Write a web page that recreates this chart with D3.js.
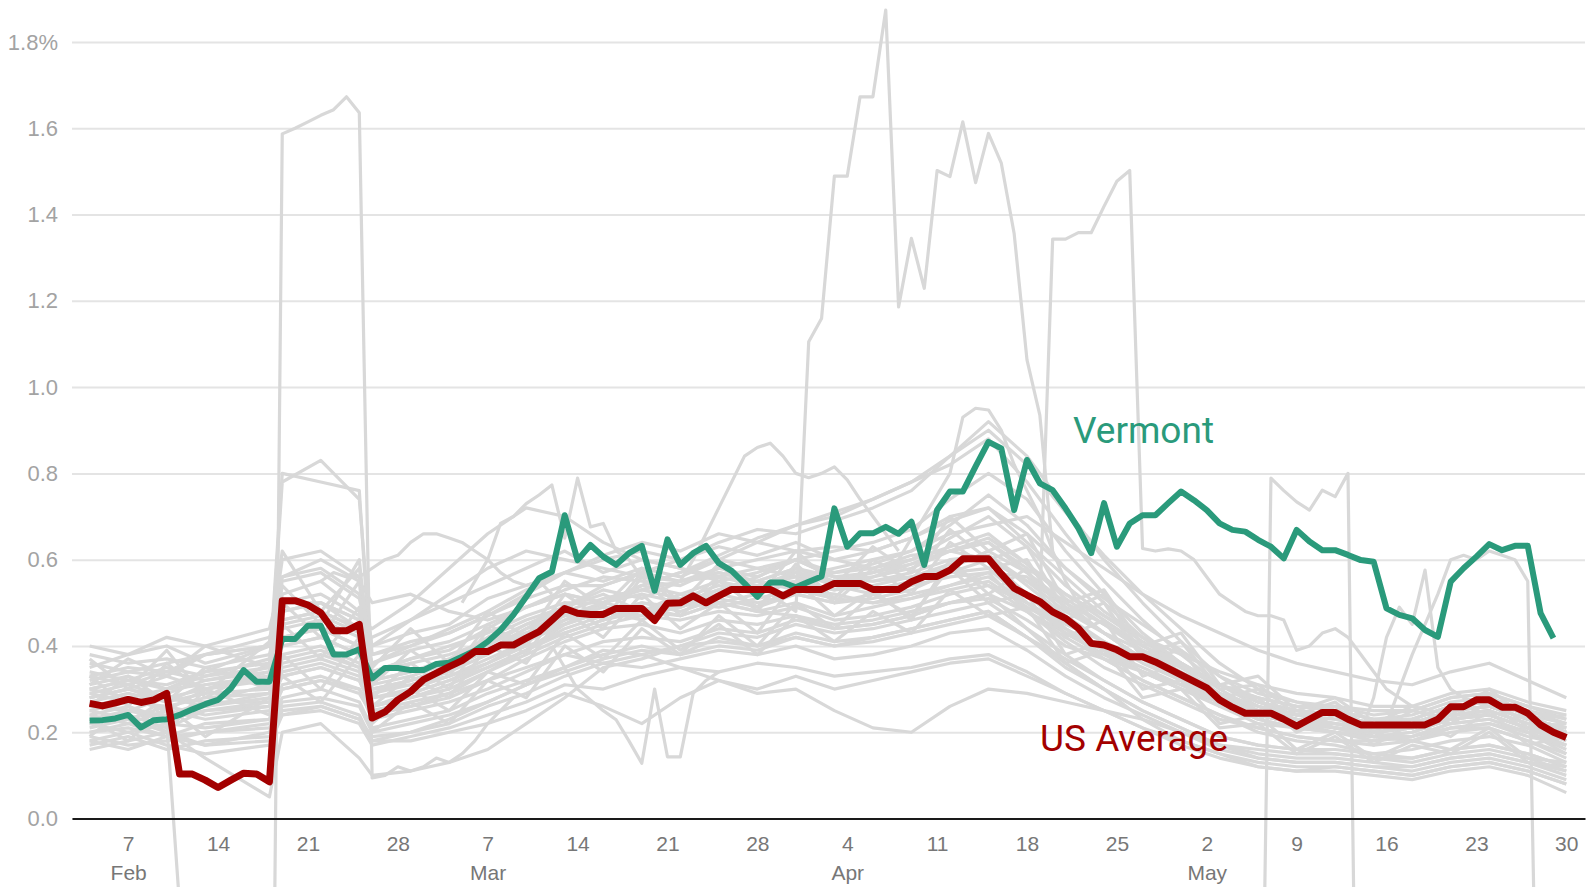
<!DOCTYPE html>
<html>
<head>
<meta charset="utf-8">
<script src="https://d3js.org/d3.v7.min.js"></script>
<style>
  body { margin: 0; background: #fff; }
  svg { display: block; font-family: Roboto, "Noto Sans", sans-serif; }
</style>
</head>
<body>
<svg id="drawing_region"></svg>
<script>
// daily series start on this day
const firstDay = '2021-02-04';

// US average, Feb 4 - May 30
const usAverage = [
  0.267,0.261,0.268,0.276,0.269,0.275,0.29,0.103,0.103,0.089,0.072,0.089,0.105,0.103,0.085,
  0.505,0.505,0.495,0.477,0.435,0.435,0.45,0.233,0.247,0.275,
  0.294,0.322,0.337,0.352,0.366,0.387,0.387,0.402,0.402,0.418,0.433,0.46,0.487,0.476,0.473,0.473,
  0.487,0.487,0.487,0.459,0.499,0.50,0.516,0.50,0.516,0.531,0.531,0.531,0.531,0.516,0.531,
  0.531,0.531,0.545,0.545,0.545,0.531,0.531,0.531,0.549,0.561,0.561,0.576,0.602,0.602,0.602,
  0.567,0.534,0.518,0.503,0.479,0.464,0.441,0.406,0.402,0.391,0.375,0.375,0.363,0.348,0.333,
  0.318,0.303,0.275,0.258,0.244,0.244,0.244,0.23,0.214,0.23,0.246,0.246,0.23,0.217,0.217,
  0.217,0.217,0.217,0.217,0.23,0.259,0.259,0.275,0.275,0.258,0.258,0.244,0.217,0.2,0.188
];

// Vermont, Feb 4 - May 29
const vermont = [
  0.227,0.228,0.232,0.24,0.211,0.228,0.23,0.24,0.253,0.265,0.275,0.302,0.344,0.317,0.317,
  0.416,0.416,0.447,0.447,0.38,0.38,0.392,0.325,0.349,0.349,
  0.344,0.344,0.358,0.361,0.375,0.389,0.41,0.437,0.472,0.514,0.557,0.572,0.703,0.599,0.634,0.607,
  0.588,0.615,0.632,0.528,0.647,0.588,0.615,0.632,0.592,0.574,0.545,0.514,0.547,0.547,0.536,
  0.549,0.561,0.719,0.63,0.661,0.661,0.676,0.66,0.688,0.588,0.715,0.758,0.758,0.816,0.873,
  0.858,0.715,0.831,0.777,0.761,0.719,0.673,0.615,0.731,0.63,0.684,0.703,0.703,0.731,0.758,
  0.738,0.715,0.684,0.669,0.665,0.646,0.63,0.603,0.669,0.642,0.622,0.622,0.611,0.599,0.595,
  0.487,0.472,0.464,0.437,0.421,0.549,0.58,0.607,0.636,0.622,0.632,0.632,0.476,0.418
];

const sampleDays = [0,3,6,9,14,15,18,21,22,25,28,31,34,37,40,43,46,49,52,55,
                    58,61,64,67,70,73,76,79,82,85,88,91,94,97,100,103,106,109,112,115];

// other states, one row per state, at sampleDays
const stateRates = [
  [0.38,0.36,0.37,0.35,0.38, 0.50,0.50,0.46,0.36, 0.40,0.44,0.48,0.53,0.57, 0.60,0.62,0.60,0.63,0.61,0.64, 0.60,0.58,0.61,0.62,0.60,0.55, 0.50,0.45,0.40,0.36,0.31, 0.27,0.25,0.24,0.22,0.21, 0.23,0.24,0.21,0.17],
  [0.33,0.35,0.34,0.38,0.40, 0.56,0.58,0.52,0.40, 0.46,0.50,0.54,0.58,0.62, 0.57,0.60,0.58,0.55,0.57,0.60, 0.56,0.55,0.56,0.58,0.54,0.48, 0.43,0.38,0.34,0.30,0.27, 0.23,0.21,0.20,0.19,0.18, 0.21,0.22,0.20,0.15],
  [0.22,0.24,0.21,0.25,0.26, 0.33,0.35,0.32,0.26, 0.29,0.32,0.36,0.41,0.46, 0.50,0.54,0.57,0.61,0.65,0.68, 0.71,0.74,0.78,0.82,0.88,0.78, 0.66,0.55,0.46,0.38,0.31, 0.26,0.23,0.21,0.19,0.18, 0.20,0.21,0.18,0.14],
  [0.25,0.27,0.26,0.28,0.29, 0.40,0.42,0.38,0.30, 0.32,0.35,0.39,0.44,0.49, 0.54,0.57,0.60,0.64,0.67,0.66, 0.69,0.72,0.76,0.84,0.92,0.84, 0.72,0.60,0.50,0.41,0.33, 0.27,0.24,0.22,0.20,0.21, 0.24,0.25,0.22,0.18],
  [0.18,0.20,0.17,0.15,0.17, 0.24,0.25,0.22,0.17, 0.19,0.21,0.24,0.27,0.31, 0.30,0.33,0.35,0.34,0.36,0.35, 0.33,0.34,0.35,0.37,0.38,0.34, 0.29,0.25,0.21,0.17,0.14, 0.12,0.11,0.12,0.11,0.10, 0.12,0.13,0.11,0.08],
  [0.20,0.22,0.19,0.20,0.22, 0.28,0.30,0.27,0.21, 0.23,0.25,0.29,0.32,0.35, 0.38,0.40,0.38,0.42,0.40,0.43, 0.41,0.42,0.44,0.46,0.48,0.42, 0.36,0.30,0.25,0.21,0.17, 0.15,0.14,0.14,0.13,0.12, 0.14,0.15,0.13,0.10],
  [0.28,0.30,0.28,0.27,0.31, 0.45,0.47,0.43,0.29, 0.32,0.35,0.39,0.44,0.47, 0.47,0.50,0.49,0.52,0.50,0.52, 0.50,0.51,0.53,0.57,0.60,0.52, 0.44,0.37,0.32,0.28,0.24, 0.21,0.19,0.18,0.17,0.18, 0.21,0.21,0.18,0.15],
  [0.30,0.28,0.30,0.31,0.33, 0.42,0.44,0.40,0.32, 0.34,0.36,0.41,0.45,0.49, 0.52,0.48,0.52,0.50,0.48,0.50, 0.47,0.49,0.51,0.54,0.57,0.56, 0.49,0.43,0.37,0.32,0.27, 0.24,0.22,0.21,0.19,0.20, 0.23,0.24,0.21,0.18],
  [0.35,0.38,0.40,0.36,0.40, 0.60,0.62,0.56,0.40, 0.43,0.45,0.51,0.54,0.57, 0.55,0.58,0.56,0.60,0.58,0.56, 0.55,0.53,0.55,0.57,0.58,0.50, 0.43,0.38,0.34,0.30,0.27, 0.25,0.24,0.25,0.23,0.23, 0.26,0.27,0.25,0.22],
  [0.24,0.22,0.25,0.23,0.25, 0.30,0.32,0.30,0.25, 0.26,0.28,0.32,0.37,0.41, 0.44,0.45,0.43,0.46,0.45,0.47, 0.44,0.45,0.47,0.50,0.52,0.48, 0.42,0.37,0.32,0.28,0.24, 0.20,0.18,0.17,0.15,0.16, 0.18,0.19,0.17,0.13],
  [0.26,0.25,0.23,0.26,0.28, 0.36,0.38,0.35,0.28, 0.30,0.33,0.36,0.40,0.43, 0.46,0.49,0.47,0.50,0.52,0.55, 0.53,0.56,0.59,0.62,0.65,0.59, 0.51,0.45,0.39,0.34,0.29, 0.25,0.23,0.21,0.20,0.21, 0.24,0.25,0.22,0.20],
  [0.32,0.34,0.33,0.30,0.34, 0.52,0.55,0.48,0.34, 0.37,0.39,0.44,0.49,0.52, 0.50,0.54,0.52,0.55,0.53,0.57, 0.54,0.52,0.54,0.56,0.57,0.48, 0.41,0.35,0.31,0.27,0.23, 0.21,0.19,0.18,0.18,0.19, 0.22,0.23,0.20,0.16],
  [0.16,0.18,0.20,0.17,0.18, 0.25,0.26,0.23,0.19, 0.20,0.22,0.26,0.29,0.33, 0.36,0.35,0.37,0.39,0.38,0.40, 0.37,0.38,0.40,0.43,0.44,0.39, 0.33,0.28,0.24,0.20,0.16, 0.14,0.13,0.13,0.12,0.11, 0.13,0.14,0.12,0.09],
  [0.29,0.27,0.29,0.32,0.34, 0.48,0.50,0.44,0.32, 0.34,0.37,0.42,0.46,0.49, 0.53,0.51,0.55,0.57,0.55,0.58, 0.56,0.57,0.60,0.65,0.70,0.63, 0.54,0.47,0.41,0.36,0.31, 0.27,0.25,0.24,0.22,0.23, 0.26,0.27,0.24,0.22],
  [0.20,0.21,0.19,0.22,0.23, 0.30,0.32,0.29,0.24, 0.26,0.29,0.34,0.39,0.45, 0.50,0.54,0.57,0.60,0.64,0.68, 0.70,0.74,0.78,0.84,0.90,0.82, 0.71,0.61,0.52,0.44,0.36, 0.30,0.27,0.25,0.23,0.23, 0.26,0.27,0.24,0.20],
  [0.27,0.29,0.27,0.29,0.30, 0.40,0.42,0.38,0.30, 0.31,0.34,0.38,0.43,0.46, 0.49,0.48,0.50,0.49,0.51,0.53, 0.51,0.50,0.52,0.54,0.56,0.50, 0.44,0.39,0.34,0.30,0.26, 0.22,0.21,0.20,0.18,0.19, 0.21,0.22,0.19,0.17],
  [0.34,0.32,0.35,0.33,0.37, 0.50,0.52,0.47,0.36, 0.39,0.41,0.45,0.49,0.53, 0.56,0.55,0.54,0.58,0.60,0.62, 0.60,0.62,0.65,0.69,0.72,0.66, 0.58,0.51,0.45,0.39,0.33, 0.29,0.27,0.26,0.24,0.25, 0.28,0.29,0.26,0.23],
  [0.19,0.17,0.18,0.20,0.21, 0.27,0.28,0.26,0.20, 0.22,0.24,0.27,0.31,0.35, 0.39,0.38,0.40,0.43,0.42,0.45, 0.43,0.44,0.46,0.48,0.50,0.44, 0.38,0.32,0.27,0.23,0.19, 0.17,0.16,0.16,0.15,0.14, 0.16,0.17,0.15,0.12],
  [0.31,0.33,0.30,0.34,0.36, 0.44,0.46,0.42,0.34, 0.36,0.38,0.41,0.43,0.45, 0.48,0.47,0.46,0.48,0.47,0.49, 0.46,0.47,0.49,0.52,0.54,0.50, 0.45,0.41,0.37,0.33,0.29, 0.26,0.24,0.23,0.21,0.22, 0.25,0.26,0.23,0.21],
  [0.23,0.25,0.24,0.27,0.27, 0.34,0.36,0.33,0.26, 0.28,0.30,0.34,0.38,0.42, 0.45,0.47,0.49,0.52,0.54,0.55, 0.57,0.59,0.62,0.68,0.75,0.68, 0.58,0.50,0.42,0.35,0.29, 0.24,0.22,0.20,0.19,0.19, 0.22,0.23,0.20,0.17],
  [0.22,0.20,0.22,0.21,0.23, 0.31,0.33,0.30,0.23, 0.25,0.27,0.30,0.34,0.38, 0.41,0.42,0.41,0.44,0.43,0.46, 0.44,0.45,0.47,0.50,0.52,0.44, 0.36,0.30,0.23,0.18,0.15, 0.12,0.11,0.11,0.10,0.09, 0.11,0.12,0.10,0.06],
  [0.36,0.34,0.36,0.38,0.40, 0.55,0.57,0.51,0.38, 0.41,0.43,0.47,0.51,0.54, 0.54,0.57,0.55,0.58,0.56,0.60, 0.57,0.58,0.60,0.63,0.66,0.59, 0.52,0.46,0.40,0.35,0.31, 0.28,0.26,0.25,0.23,0.24, 0.27,0.28,0.25,0.23],
  [0.25,0.23,0.26,0.24,0.26, 0.35,0.37,0.34,0.26, 0.28,0.31,0.35,0.39,0.44, 0.47,0.50,0.48,0.51,0.49,0.52, 0.50,0.52,0.55,0.58,0.62,0.57, 0.50,0.43,0.37,0.32,0.27, 0.23,0.21,0.20,0.19,0.20, 0.23,0.24,0.21,0.19],
  [0.21,0.23,0.20,0.14,0.05, 0.20,0.22,0.14,0.10, 0.11,0.13,0.16,0.22,0.28, 0.35,0.37,0.40,0.41,0.40,0.42, 0.40,0.42,0.44,0.46,0.48,0.42, 0.35,0.30,0.25,0.21,0.17, 0.14,0.13,0.13,0.12,0.12, 0.14,0.15,0.13,0.11],
  [0.30,0.32,0.31,0.34,0.40, 0.46,0.48,0.44,0.42, 0.46,0.52,0.58,0.62,0.60, 0.58,0.56,0.55,0.57,0.55,0.53, 0.52,0.50,0.51,0.53,0.55,0.49, 0.44,0.39,0.35,0.31,0.27, 0.24,0.22,0.21,0.20,0.21, 0.24,0.24,0.21,0.19],
  [0.28,0.30,0.33,0.38,0.42, 0.48,0.50,0.46,0.44, 0.50,0.58,0.66,0.72,0.70, 0.64,0.60,0.58,0.56,0.58,0.60, 0.56,0.55,0.57,0.60,0.61,0.54, 0.47,0.41,0.36,0.32,0.28, 0.25,0.23,0.22,0.21,0.22, 0.25,0.26,0.23,0.21],
  [0.17,0.19,0.16,0.18,0.19, 0.24,0.26,0.23,0.18, 0.18,0.20,0.22,0.25,0.29, 0.26,0.22,0.28,0.32,0.30,0.33, 0.30,0.32,0.34,0.36,0.37,0.33, 0.29,0.25,0.21,0.18,0.15, 0.13,0.12,0.12,0.11,0.10, 0.12,0.13,0.11,0.08],
  [0.26,0.28,0.25,0.30,0.32, 0.38,0.40,0.36,0.29, 0.31,0.33,0.37,0.41,0.45, 0.48,0.46,0.50,0.53,0.56,0.60, 0.62,0.64,0.67,0.74,0.80,0.74, 0.62,0.52,0.43,0.36,0.30, 0.25,0.23,0.21,0.20,0.21, 0.24,0.25,0.22,0.19],
  [0.33,0.31,0.34,0.32,0.35, 0.46,0.48,0.44,0.34, 0.37,0.40,0.43,0.47,0.50, 0.50,0.53,0.51,0.54,0.52,0.55, 0.53,0.54,0.56,0.59,0.61,0.55, 0.48,0.43,0.39,0.35,0.31, 0.28,0.26,0.26,0.25,0.25, 0.28,0.29,0.26,0.24],
  [0.24,0.26,0.23,0.25,0.27, 0.33,0.35,0.32,0.25, 0.27,0.29,0.32,0.35,0.38, 0.36,0.38,0.35,0.32,0.29,0.30, 0.25,0.21,0.20,0.26,0.30,0.29, 0.27,0.25,0.23,0.20,0.17, 0.16,0.15,0.15,0.14,0.14, 0.16,0.17,0.15,0.12],
  [0.27,0.25,0.28,0.26,0.29, 0.37,0.39,0.35,0.28, 0.29,0.32,0.35,0.39,0.43, 0.46,0.48,0.50,0.52,0.54,0.56, 0.58,0.60,0.62,0.66,0.68,0.70, 0.64,0.58,0.52,0.47,0.43, 0.39,0.36,0.34,0.32,0.31, 0.34,0.36,0.32,0.28],
  [0.29,0.31,0.28,0.30,0.33, 0.42,0.44,0.40,0.31, 0.33,0.36,0.40,0.45,0.48, 0.51,0.53,0.55,0.56,0.54,0.57, 0.55,0.57,0.59,0.62,0.64,0.58, 0.52,0.47,0.42,0.38,0.34, 0.31,0.29,0.28,0.26,0.26, 0.29,0.30,0.27,0.25],
  [0.18,0.16,0.19,0.17,0.20, 0.26,0.27,0.24,0.18, 0.20,0.23,0.27,0.31,0.34, 0.37,0.39,0.38,0.40,0.39,0.42, 0.40,0.41,0.43,0.45,0.47,0.42, 0.37,0.32,0.27,0.23,0.19, 0.17,0.16,0.15,0.14,0.13, 0.15,0.16,0.14,0.11],
  [0.30,0.32,0.30,0.33,0.35, 0.80,0.78,0.76,0.30, 0.32,0.35,0.39,0.43,0.47, 0.50,0.52,0.50,0.53,0.55,0.58, 0.55,0.56,0.58,0.62,0.64,0.57, 0.49,0.43,0.37,0.33,0.29, 0.26,0.24,0.23,0.22,0.22, 0.25,0.26,0.23,0.21],
  [0.28,0.30,0.27,0.31,0.33, 0.78,0.83,0.74,0.38, 0.40,0.43,0.47,0.52,0.57, 0.61,0.64,0.62,0.66,0.64,0.62, 0.63,0.62,0.65,0.70,0.72,0.64, 0.56,0.48,0.42,0.36,0.31, 0.27,0.25,0.24,0.22,0.22, 0.25,0.26,0.23,0.20],
  [0.40,0.38,0.42,0.40,0.44, 0.56,0.60,0.55,0.50, 0.52,0.48,0.46,0.49,0.52, 0.50,0.48,0.47,0.50,0.48,0.47, 0.45,0.46,0.48,0.50,0.51,0.46, 0.40,0.37,0.34,0.31,0.27, 0.24,0.22,0.22,0.21,0.21, 0.23,0.24,0.21,0.19],
  [0.37,0.30,0.39,0.28,0.36, 0.50,0.42,0.55,0.26, 0.33,0.28,0.40,0.36,0.48, 0.42,0.52,0.44,0.50,0.43,0.55, 0.47,0.53,0.46,0.60,0.52,0.58, 0.42,0.46,0.33,0.36,0.26, 0.28,0.20,0.24,0.17,0.22, 0.19,0.25,0.17,0.19],
  [0.19,0.26,0.20,0.30,0.24, 0.38,0.30,0.42,0.20, 0.27,0.22,0.32,0.28,0.40, 0.34,0.44,0.38,0.47,0.40,0.50, 0.44,0.52,0.47,0.58,0.50,0.52, 0.38,0.41,0.30,0.32,0.22, 0.24,0.16,0.20,0.14,0.18, 0.16,0.21,0.14,0.13],
  [0.33,0.26,0.36,0.29,0.41, 0.62,0.48,0.58,0.35, 0.44,0.36,0.48,0.42,0.55, 0.49,0.58,0.50,0.59,0.51,0.62, 0.54,0.63,0.57,0.70,0.62,0.66, 0.50,0.53,0.40,0.43,0.31, 0.33,0.25,0.28,0.22,0.26, 0.24,0.30,0.23,0.24],
  [0.26,0.33,0.27,0.35,0.30, 0.45,0.37,0.49,0.28, 0.36,0.30,0.44,0.38,0.50, 0.44,0.56,0.47,0.55,0.49,0.58, 0.50,0.58,0.52,0.64,0.58,0.60, 0.46,0.50,0.37,0.39,0.28, 0.30,0.22,0.26,0.19,0.23, 0.22,0.27,0.20,0.20],
  [0.23,0.18,0.26,0.19,0.28, 0.33,0.27,0.38,0.22, 0.30,0.25,0.34,0.31,0.43, 0.37,0.46,0.39,0.45,0.38,0.47, 0.41,0.48,0.43,0.53,0.47,0.49, 0.36,0.39,0.28,0.30,0.21, 0.22,0.15,0.19,0.13,0.17, 0.15,0.20,0.13,0.12],
  [0.31,0.37,0.33,0.40,0.35, 0.54,0.45,0.60,0.31, 0.39,0.33,0.45,0.40,0.52, 0.46,0.57,0.49,0.56,0.48,0.59, 0.51,0.60,0.55,0.67,0.60,0.63, 0.48,0.52,0.38,0.41,0.30, 0.31,0.24,0.27,0.20,0.25, 0.23,0.29,0.21,0.22]
];

// states with jumps, read day by day from their first date
const spikeFeb = ['2021-02-08', [0.24,0.26,0.22,-0.20,-1.0,-1.2,-1.3,-1.3,-1.3,-1.4,-1.45,1.587,1.60,1.615,1.63,1.643,1.673,1.636,0.094,0.10,0.12,0.11,0.12,0.14,0.13,0.15,0.18,0.22,0.25,0.28]];
const spikeApr = ['2021-03-29', [0.52,0.50,0.48,1.105,1.159,1.489,1.489,1.673,1.673,1.874,1.186,1.345,1.229,1.502,1.488,1.615,1.474,1.588,1.519,1.356,1.063,0.935,0.62,0.55,0.50,0.46]];
const spikeLateApr = ['2021-04-19', [0.50,1.343,1.343,1.358,1.358,1.419,1.477,1.502,0.626,0.62,0.625,0.62,0.60,0.56,0.52,0.50,0.48,0.47,0.47,0.46,0.39,0.40,0.43,0.44,0.42,0.38,0.34,0.30,0.28,0.26]];
const spikeMay = ['2021-05-06', [-1.2,0.789,0.76,0.734,0.715,0.761,0.746,0.80,-1.4]];
const dropMay = ['2021-05-16', [0.22,0.30,0.38,0.45,0.52,0.60,0.61,0.60,0.62,0.61,0.60,0.55,-1.0,-1.2,-1.2]];
const highFeb = ['2021-02-22', [0.55,0.57,0.56,0.56,0.58,0.60,0.61,0.64,0.66,0.66,0.65,0.64,0.62,0.60,0.57,0.55,0.54,0.55,0.52]];
const riseMar = ['2021-03-05', [0.50,0.55,0.60,0.684,0.70,0.73,0.75,0.773,0.65,0.789,0.676,0.684,0.62,0.60,0.56]];
const lowMar = ['2021-03-12', [0.40,0.35,0.30,0.275,0.25,0.229,0.18,0.128,0.30,0.143,0.143,0.29,0.32,0.34]];
const peakMar = ['2021-03-22', [0.55,0.60,0.66,0.72,0.78,0.84,0.86,0.87,0.84,0.80,0.79,0.80,0.815,0.785,0.74,0.70,0.66,0.62]];
const peakApr = ['2021-04-08', [0.60,0.65,0.70,0.75,0.80,0.93,0.951,0.947,0.90,0.82,0.76,0.70,0.62]];
const bumpMay = ['2021-05-14', [0.20,0.28,0.42,0.49,0.45,0.576,0.35,0.30,0.28,0.27]];

const yTicks = [0, 0.2, 0.4, 0.6, 0.8, 1.0, 1.2, 1.4, 1.6, 1.8];
const monthStarts = ['2021-02-07', '2021-03-07', '2021-04-04', '2021-05-02'];

const parseDay = d3.timeParse('%Y-%m-%d');
const daily = (start, values) => values.map((v, i) => ({ date: d3.timeDay.offset(parseDay(start), i), value: v }));

class LineChart {
    constructor(config) {
        this.config = config;
        this.init();
    }

    init() {
        let self = this;
        self.svg = d3.select(self.config.parent)
            .attr('width', self.config.width)
            .attr('height', self.config.height);

        self.xscale = d3.scaleTime()
            .domain([new Date(2021, 1, 2, 15), new Date(2021, 4, 31, 11)])
            .range([self.config.left, self.config.right]);
        self.yscale = d3.scaleLinear()
            .domain([0, 1.8])
            .range([self.config.bottom, self.config.top]);

        self.line = d3.line()
            .x(d => self.xscale(d.date))
            .y(d => self.yscale(d.value));
    }

    render() {
        let self = this;
        const width = self.config.right - self.config.left;

        // grid + y labels
        const yaxis = d3.axisLeft(self.yscale)
            .tickValues(yTicks)
            .tickSize(-width)
            .tickPadding(14)
            .tickFormat(d => d === 1.8 ? '1.8%' : d3.format('.1f')(d));
        const yg = self.svg.append('g')
            .attr('transform', `translate(${self.config.left},0)`)
            .call(yaxis);
        yg.select('.domain').remove();
        yg.selectAll('line').attr('stroke', '#e4e4e4').attr('stroke-width', 2);
        yg.selectAll('text').attr('fill', '#a3a3a3').style('font-size', '22px');

        // other states
        const start = parseDay(firstDay);
        const states = stateRates.map(row => row.map((v, i) => ({ date: d3.timeDay.offset(start, sampleDays[i]), value: v })));
        [spikeFeb, spikeApr, spikeLateApr, spikeMay, dropMay, highFeb, riseMar, lowMar, peakMar, peakApr, bumpMay]
            .forEach(s => states.push(daily(s[0], s[1])));

        self.svg.append('g')
            .selectAll('path')
            .data(states)
            .join('path')
            .attr('d', self.line)
            .attr('fill', 'none')
            .attr('stroke', '#d8d8d8')
            .attr('stroke-width', 3.2)
            .attr('stroke-linejoin', 'round');

        // x axis: day of month and month names
        const xaxis = d3.axisBottom(self.xscale)
            .tickValues(d3.timeSunday.range(new Date(2021, 1, 7), new Date(2021, 4, 31)))
            .tickSize(0)
            .tickSizeOuter(0)
            .tickPadding(18)
            .tickFormat(d3.timeFormat('%-d'));
        const xg = self.svg.append('g')
            .attr('transform', `translate(0,${self.config.bottom})`)
            .call(xaxis);
        xg.select('.domain').attr('stroke', '#1a1a1a').attr('stroke-width', 2);
        xg.selectAll('text').attr('fill', '#777').style('font-size', '21px');

        const maxis = d3.axisBottom(self.xscale)
            .tickValues(monthStarts.map(parseDay))
            .tickSize(0)
            .tickPadding(47)
            .tickFormat(d3.timeFormat('%b'));
        const mg = self.svg.append('g')
            .attr('transform', `translate(0,${self.config.bottom})`)
            .call(maxis);
        mg.select('.domain').remove();
        mg.selectAll('text').attr('fill', '#777').style('font-size', '21px');

        // highlighted lines
        self.svg.append('path')
            .datum(daily(firstDay, vermont))
            .attr('d', self.line)
            .attr('fill', 'none')
            .attr('stroke', '#2a9a7b')
            .attr('stroke-width', 6)
            .attr('stroke-linejoin', 'round');

        self.svg.append('path')
            .datum(daily(firstDay, usAverage))
            .attr('d', self.line)
            .attr('fill', 'none')
            .attr('stroke', '#a30000')
            .attr('stroke-width', 7)
            .attr('stroke-linejoin', 'round');

        self.svg.append('text')
            .attr('x', 1073).attr('y', 443)
            .attr('fill', '#2a9a7b')
            .style('font-size', '37px')
            .text('Vermont');

        self.svg.append('text')
            .attr('x', 1040).attr('y', 751)
            .attr('fill', '#a30000')
            .style('font-size', '37px')
            .text('US Average');
    }
}

const chart = new LineChart({
    parent: '#drawing_region',
    width: 1595,
    height: 887,
    left: 72, right: 1585,
    top: 42, bottom: 818.5
});
chart.render();
</script>
</body>
</html>
